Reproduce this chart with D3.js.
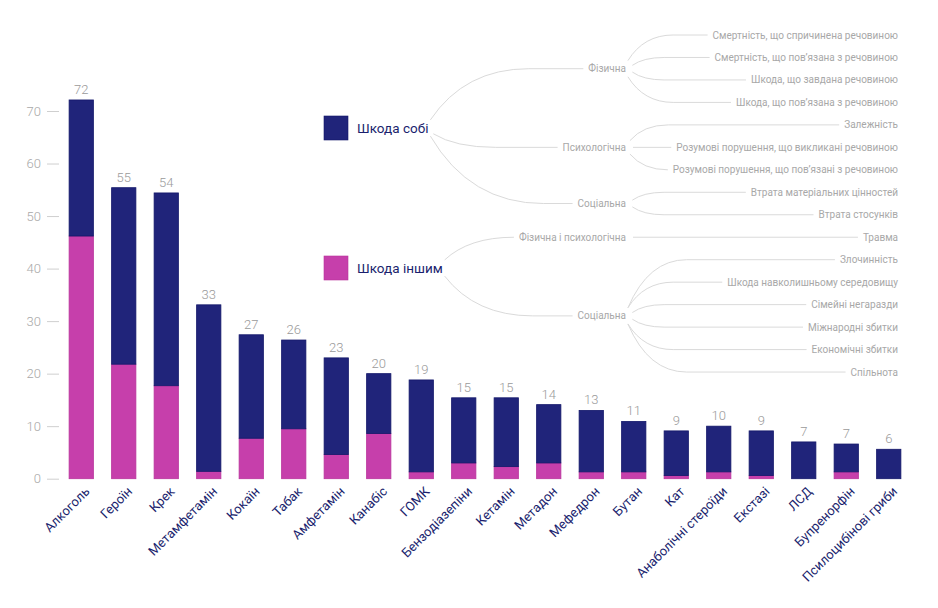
<!DOCTYPE html>
<html>
<head>
<meta charset="utf-8">
<script src="https://cdn.jsdelivr.net/npm/d3@7"></script>
<style>
    body { margin: 0; background: #fff; }
    svg { display: block; font-family: Roboto, "Noto Sans", sans-serif; }
</style>
</head>
<body>
<svg id="chart" width="938" height="608"></svg>
<script>
// drugs, harm to others (bottom) and harm to users (top)
const drugs = ["Алкоголь", "Героїн", "Крек", "Метамфетамін", "Кокаїн", "Табак", "Амфетамін",
    "Канабіс", "ГОМК", "Бензодіазепіни", "Кетамін", "Метадон", "Мефедрон", "Бутан", "Кат",
    "Анаболічні стероїди", "Екстазі", "ЛСД", "Бупренорфін", "Псилоцибінові гриби"];
const harmOthers = [46.2, 21.8, 17.7, 1.4, 7.7, 9.5, 4.6, 8.6, 1.3, 3.0, 2.3, 3.0, 1.3, 1.3, 0.6, 1.3, 0.6, 0, 1.3, 0];
const harmSelf = [25.9, 33.6, 36.7, 31.7, 19.7, 16.9, 18.4, 11.4, 17.5, 12.4, 13.1, 11.1, 11.7, 9.6, 8.5, 8.7, 8.5, 7.0, 5.3, 5.6];
const yTicks = [0, 10, 20, 30, 40, 50, 60, 70];

const legendLabels = ["Шкода собі", "Шкода іншим"];
const legendColors = ["#20247a", "#c63fab"];

const selfBranches = [
    ["Фізична", ["Смертність, що спричинена речовиною", "Смертність, що пов’язана з речовиною",
        "Шкода, що завдана речовиною", "Шкода, що пов’язана з речовиною"]],
    ["Психологічна", ["Залежність", "Розумові порушення, що викликані речовиною",
        "Розумові порушення, що пов’язані з речовиною"]],
    ["Соціальна", ["Втрата матеріальних цінностей", "Втрата стосунків"]],
];
const othersBranches = [
    ["Фізична і психологічна", ["Травма"]],
    ["Соціальна", ["Злочинність", "Шкода навколишньому середовищу", "Сімейні негаразди",
        "Міжнародні збитки", "Економічні збитки", "Спільнота"]],
];

const svg = d3.select("#chart");
const navy = legendColors[0], pink = legendColors[1];

// ---- bars ----
const rows = drugs.map((d, i) => ({drug: d, others: harmOthers[i], self: harmSelf[i]}));
const stack = d3.stack().keys(["others", "self"])(rows);

const x = d3.scaleBand()
    .domain(drugs)
    .range([60, 910])
    .paddingInner(0.41)
    .paddingOuter(0.205);
const y = d3.scaleLinear().domain([0, 70]).range([478.7, 111]);

const yAxis = svg.append("g")
    .attr("transform", "translate(59,0)")
    .call(d3.axisLeft(y).tickValues(yTicks).tickSize(12).tickPadding(6));
yAxis.select(".domain").remove();
yAxis.selectAll(".tick line").attr("stroke", "#cfcfcf");
yAxis.selectAll(".tick text")
    .attr("fill", "#a8a8a8")
    .style("font-size", "13px")
    .style("font-weight", 300)
    .style("font-family", "Roboto");

const fills = {others: pink, self: navy};
const strokes = {others: "#b9339c", self: "#13176a"};

svg.append("g")
    .selectAll("g")
    .data(stack)
    .join("g")
    .attr("fill", s => fills[s.key])
    .attr("stroke", s => strokes[s.key])
    .attr("stroke-width", 0.8)
    .selectAll("rect")
    .data(s => s.filter(d => d[1] - d[0] > 0))
    .join("rect")
    .attr("x", d => x(d.data.drug) + 0.4)
    .attr("y", d => y(d[1]))
    .attr("width", x.bandwidth() - 0.8)
    .attr("height", d => y(d[0]) - y(d[1]));

const fmt = d3.format(".0f");
svg.append("g")
    .selectAll("text")
    .data(rows)
    .join("text")
    .attr("x", d => x(d.drug) + x.bandwidth() / 2)
    .attr("y", d => y(d.others + d.self) - 6)
    .attr("text-anchor", "middle")
    .attr("fill", "#9a9a9a")
    .style("font-size", "13px")
    .style("font-weight", 300)
    .text(d => fmt(d.others + d.self));

svg.append("g")
    .selectAll("text")
    .data(drugs)
    .join("text")
    .attr("transform", d => `translate(${x(d) + x.bandwidth() / 2 + 6},489) rotate(-45)`)
    .attr("dy", "0.35em")
    .attr("text-anchor", "end")
    .attr("fill", "#1b1f6e")
    .style("font-size", "13px")
    .text(d => d);

// ---- legend + harm tree ----
const legendY = [128, 268];
const leafTop = 35, leafStep = 22.47;
const midEnd = 626, leafEnd = 898;

const treeData = {
    name: "",
    children: [selfBranches, othersBranches].map((branches, i) => ({
        name: legendLabels[i],
        children: branches.map(([name, leaves]) => ({
            name: name,
            children: leaves.map(l => ({name: l})),
        })),
    })),
};
const root = d3.hierarchy(treeData);
const leafCount = root.leaves().length;
d3.cluster()
    .size([leafCount * leafStep, 1])
    .separation(() => 1)(root);
root.each(n => { n.py = leafTop - leafStep / 2 + n.x; });

const legend = svg.append("g");
root.children.forEach((n, i) => {
    n.py = legendY[i];
    legend.append("rect")
        .attr("x", 324)
        .attr("y", legendY[i] - 12)
        .attr("width", 24)
        .attr("height", 24)
        .attr("fill", legendColors[i])
        .attr("stroke", strokes[i === 0 ? "self" : "others"])
        .attr("stroke-width", 0.6);
    const t = legend.append("text")
        .attr("x", 357)
        .attr("y", legendY[i])
        .attr("dy", "0.35em")
        .attr("fill", "#1b1f6e")
        .style("font-size", "13.5px")
        .text(n.data.name);
    n.anchorX = t.node().getComputedTextLength() + 357;
});

const links = svg.append("g")
    .attr("fill", "none")
    .attr("stroke", "#dadada")
    .attr("stroke-width", 1);
const labels = svg.append("g")
    .attr("fill", "#a8a8a8")
    .style("font-size", "10px");

function addLabel(n, xEnd) {
    const t = labels.append("text")
        .attr("x", xEnd)
        .attr("y", n.py)
        .attr("dy", "0.35em")
        .attr("text-anchor", "end")
        .text(n.data.name);
    return xEnd - t.node().getComputedTextLength();
}

// curved link: leaves the anchor steeply, then runs flat to the label
function linkPath(ax, ay, tx, ty, r, a, b) {
    const dy = ty - ay;
    const oy = Math.sign(dy) * Math.min(Math.abs(dy) * 0.3, r * 0.9);
    const sx = ax + Math.sqrt(r * r - oy * oy), sy = ay + oy;
    if (Math.abs(dy) < 0.5) return `M${sx},${ay}L${tx},${ty}`;
    const ex = Math.min(sx + a + b * Math.abs(dy), tx);
    const cx = sx + 0.35 * (ex - sx);
    return `M${sx},${sy}Q${cx},${ty} ${ex},${ty}L${tx},${ty}`;
}

root.children.forEach(group => {
    group.children.forEach(mid => {
        const midStart = addLabel(mid, midEnd);
        links.append("path").attr("d", linkPath(group.anchorX - 2, group.py, midStart - 5, mid.py, 9, 45, 0.9));
        mid.children.forEach(leaf => {
            const leafStart = addLabel(leaf, leafEnd);
            links.append("path").attr("d", linkPath(midEnd - 2, mid.py, leafStart - 5, leaf.py, 9, 25, 0.6));
        });
    });
});
</script>
</body>
</html>
